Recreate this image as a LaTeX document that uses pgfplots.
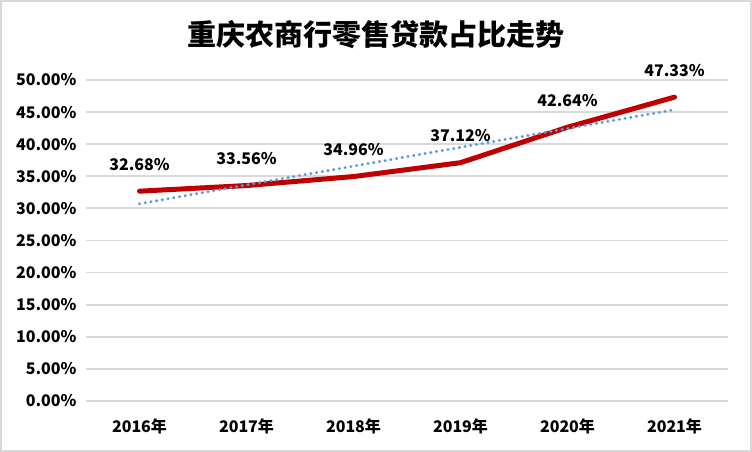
\documentclass[border=0pt]{standalone}
\usepackage{fontspec}
\setmainfont{Noto Sans CJK SC}
\usepackage{pgfplots}
\pgfplotsset{compat=1.18}
\definecolor{gridc}{HTML}{D9D9D9}
\definecolor{redl}{HTML}{C00000}
\definecolor{bluet}{HTML}{5B9BD5}
\begin{document}
\begin{tikzpicture}[x=1pt,y=1pt]
\fill[white] (0,0) rectangle (752,452);
\draw[gridc, line width=2pt] (1,1) rectangle (751,451);
\node[font=\fontsize{29}{34}\selectfont\bfseries] at (376,417) {重庆农商行零售贷款占比走势};
\begin{axis}[
  at={(86pt,51pt)}, anchor=south west,
  scale only axis, width=642pt, height=321pt,
  xmin=-0.5, xmax=5.5, ymin=0, ymax=50,
  ytick={0,5,...,50}, xtick={0,1,2,3,4,5},
  xticklabels={2016年,2017年,2018年,2019年,2020年,2021年},
  axis line style={draw=none},
  ymajorgrids, grid style={gridc, line width=1.8pt},
  major tick length=0pt,
  /pgf/number format/assume math mode=true,
  tick label style={font=\fontsize{16}{19}\selectfont\bfseries},
  yticklabel={\pgfmathprintnumber[fixed,fixed zerofill,precision=2]{\tick}\%},
  yticklabel style={xshift=-6pt},
  xticklabel style={yshift=-14pt},
  clip=false,
]
\addplot[redl, line width=5pt, line cap=round, line join=round,
  nodes near coords={\pgfmathprintnumber[fixed,fixed zerofill,precision=2]{\pgfplotspointmeta}\%},
  every node near coord/.append style={anchor=center, yshift=27pt, text=black, font=\fontsize{16}{19}\selectfont\bfseries}]
  coordinates {(0,32.68) (1,33.56) (2,34.96) (3,37.12) (4,42.64) (5,47.33)};
\addplot[bluet, line width=3.3pt, line cap=round, dash pattern=on 0pt off 5.8pt]
  coordinates {(0,30.72) (5,45.38)};
\end{axis}
\end{tikzpicture}
\end{document}
